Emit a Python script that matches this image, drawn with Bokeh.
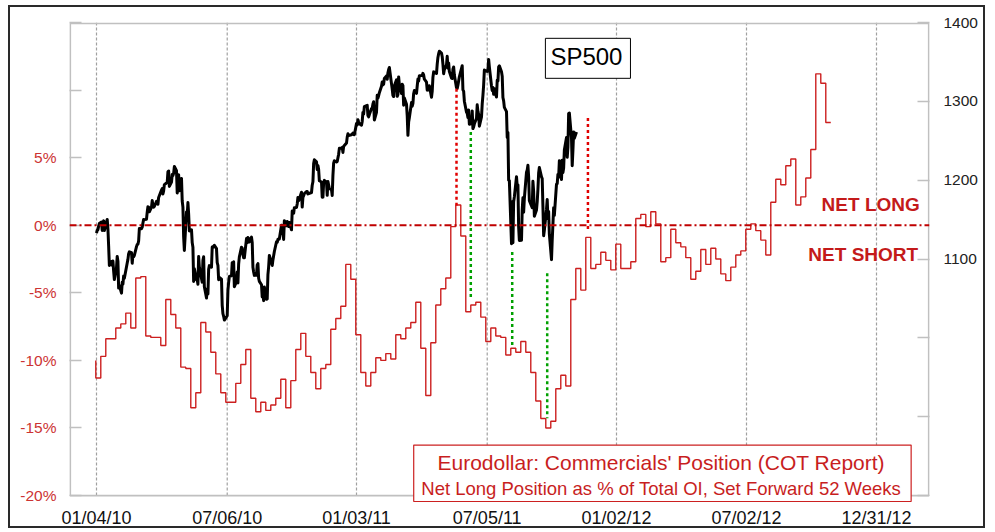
import pandas as pd
from bokeh.plotting import figure
from bokeh.models import (Range1d, LinearAxis, FixedTicker, Span, Label, BoxAnnotation,
                          DatetimeTickFormatter, CustomJSTickFormatter, ColumnDataSource)
from bokeh.embed import file_html
from bokeh.resources import INLINE

# ---------------- data ----------------
sp500_2010 = [
    1132.99, 1136.52, 1137.14, 1141.69, 1144.98, 1146.98, 1136.22, 1145.68, 1148.46, 1136.03,
    1150.23, 1138.04, 1116.48, 1091.76, 1096.78, 1092.17, 1097.50, 1084.53, 1073.87,
    1089.19, 1103.32, 1097.28, 1063.11, 1066.19, 1056.74, 1070.52, 1068.13, 1078.47, 1075.51,
    1094.87, 1099.51, 1106.75, 1109.17, 1108.01, 1094.60, 1105.24, 1102.94, 1104.49,
    1115.71, 1118.31, 1118.79, 1122.97, 1138.70, 1138.50, 1140.45, 1145.61, 1150.24, 1149.99,
    1150.51, 1159.46, 1166.21, 1165.83, 1159.90, 1165.81, 1174.17, 1167.72, 1165.73, 1166.59,
    1173.22, 1173.27, 1169.43,
    1178.10, 1187.44, 1189.44, 1182.45, 1186.44, 1194.37, 1196.48, 1197.30, 1210.65, 1211.67,
    1192.13, 1197.52, 1207.17, 1205.94, 1208.67, 1217.28, 1212.05, 1183.71, 1191.36, 1206.78, 1186.69,
    1202.26, 1173.60, 1165.87, 1128.15, 1110.88, 1159.73, 1155.79, 1171.67, 1157.44, 1135.68,
    1136.94, 1120.80, 1115.05, 1071.59, 1087.69, 1073.65, 1074.03, 1067.95, 1103.06, 1089.41,
    1070.71, 1098.38, 1102.83, 1064.88, 1050.47, 1062.00, 1055.69, 1086.84, 1091.60, 1089.63,
    1115.23, 1114.61, 1116.04, 1117.51, 1113.20, 1095.31, 1092.04, 1073.69, 1076.76, 1074.57,
    1041.24, 1030.71,
    1027.37, 1022.58, 1028.06, 1060.27, 1070.25, 1077.96, 1078.75, 1095.34, 1095.17, 1096.48,
    1064.88, 1071.25, 1083.48, 1069.59, 1093.67, 1102.66, 1115.01, 1113.84, 1106.13, 1101.53, 1101.60,
    1125.86, 1120.46, 1127.24, 1125.81, 1121.64, 1127.79, 1121.06, 1089.47, 1083.61, 1079.25,
    1079.38, 1092.54, 1094.16, 1075.63, 1071.69, 1067.36, 1051.87, 1055.33, 1047.22, 1064.59,
    1048.92, 1049.33,
    1080.29, 1090.10, 1104.51, 1091.84, 1098.87, 1104.18, 1109.55, 1121.90, 1121.10, 1125.07,
    1124.66, 1125.59, 1142.71, 1139.78, 1134.28, 1124.83, 1148.67, 1142.16, 1147.70, 1144.73, 1141.20,
    1146.24, 1137.03, 1160.75, 1159.97, 1158.06, 1165.15, 1165.32, 1169.77, 1178.10, 1173.81,
    1176.19, 1184.71, 1165.90, 1178.17, 1180.26, 1183.08, 1185.62, 1185.64, 1182.45, 1183.78, 1183.26,
    1184.38, 1193.57, 1197.96, 1221.06, 1225.85, 1223.25, 1213.40, 1218.71, 1213.54, 1199.21,
    1197.75, 1178.34, 1178.59, 1196.69, 1199.73, 1197.84, 1180.73, 1198.35, 1189.40, 1187.76, 1180.55,
    1206.07, 1221.53, 1224.71, 1223.12, 1223.75, 1228.28, 1233.00, 1240.40, 1240.46, 1241.59,
    1235.23, 1242.87, 1243.91, 1247.08, 1254.60, 1258.84, 1256.77, 1257.54, 1258.51, 1259.78,
    1257.88, 1257.64,
]
sp500_2011 = [
    1271.87, 1270.20, 1276.56, 1273.85, 1271.50, 1269.75, 1274.48, 1285.96, 1283.76, 1293.24,
    1295.02, 1281.92, 1280.26, 1283.35, 1290.84, 1291.18, 1296.63, 1299.54, 1276.34, 1286.12,
    1307.59, 1304.03, 1307.10, 1310.87, 1319.05, 1324.57, 1320.88, 1321.87, 1329.15, 1332.32,
    1328.01, 1336.32, 1340.43, 1343.01, 1315.44, 1307.40, 1306.10, 1319.88, 1327.22,
    1306.33, 1308.44, 1330.97, 1321.15, 1310.13, 1321.82, 1320.02, 1295.11, 1304.28, 1296.39,
    1281.87, 1256.88, 1273.72, 1279.21, 1298.38, 1293.77, 1297.54, 1309.66, 1313.80, 1310.19,
    1319.44, 1328.26, 1325.83,
    1332.41, 1332.87, 1332.63, 1335.54, 1333.51, 1328.17, 1324.46, 1314.16, 1314.41, 1314.52,
    1319.68, 1305.14, 1312.62, 1330.36, 1337.38, 1335.25, 1347.24, 1355.66, 1360.48, 1363.61,
    1361.22, 1356.62, 1347.32, 1335.10, 1340.20, 1346.29, 1357.16, 1342.08, 1348.65, 1337.77,
    1329.47, 1328.98, 1340.68, 1343.60, 1333.27, 1317.37, 1316.28, 1320.47, 1325.69, 1331.10, 1345.20,
    1314.55, 1312.94, 1300.16, 1286.17, 1284.94, 1279.56, 1289.00, 1270.98, 1271.83, 1287.87,
    1265.42, 1267.64, 1271.50, 1278.36, 1295.52, 1287.14, 1283.50, 1268.45, 1280.10, 1296.67,
    1307.41, 1320.64,
    1339.67, 1337.88, 1339.22, 1353.22, 1343.80, 1319.49, 1313.64, 1317.72, 1308.87, 1316.14,
    1305.44, 1326.73, 1325.84, 1343.80, 1345.02, 1337.43, 1331.94, 1304.89, 1300.67, 1292.28,
    1286.94, 1254.05, 1260.34, 1200.07, 1199.38, 1119.46, 1172.53, 1120.76, 1172.64, 1178.81,
    1204.49, 1192.76, 1193.89, 1140.65, 1123.53, 1123.82, 1162.35, 1177.60, 1159.27, 1176.80,
    1210.08, 1212.92, 1218.89,
    1204.42, 1173.97, 1165.24, 1198.62, 1185.90, 1154.23, 1162.27, 1172.87, 1188.68, 1209.11,
    1216.01, 1204.09, 1202.09, 1166.76, 1129.56, 1136.43, 1162.95, 1175.38, 1151.06, 1160.40, 1131.42,
    1099.23, 1123.95, 1144.03, 1164.97, 1155.46, 1194.89, 1195.54, 1207.25, 1203.66, 1224.58,
    1200.86, 1225.38, 1209.88, 1215.39, 1238.25, 1254.19, 1229.05, 1242.00, 1284.59, 1285.09, 1253.30,
    1218.28, 1237.90, 1261.15, 1253.23, 1261.12,
]
nyse_holidays = [
    "2010-01-01", "2010-01-18", "2010-02-15", "2010-04-02", "2010-05-31", "2010-07-05",
    "2010-09-06", "2010-11-25", "2010-12-24", "2011-01-17", "2011-02-21", "2011-04-22",
    "2011-05-30", "2011-07-04", "2011-09-05", "2011-11-24",
]
sp500_first_day = "2010-01-04"

# Eurodollar commercials' net long position, % of total OI (weekly, set forward 52 weeks)
cot_first_week = "2010-01-03"
cot_net_pct = [
    -10.0,
    -11.3, -9.7, -8.4, -8.4, -7.6, -7.3, -6.5, -7.6, -3.9, -3.8,
    -8.2, -8.3, -8.3, -8.9, -5.5, -6.6, -7.6, -10.5, -10.6, -13.5,
    -12.4, -7.2, -7.9, -9.4, -11.0, -12.4, -13.1, -13.1, -11.7, -10.3,
    -9.2, -12.8, -13.8, -13.1, -13.7, -13.3, -12.8, -11.4, -13.5, -11.5,
    -9.2, -8.0, -9.7, -10.9, -12.1, -10.6, -10.3, -7.7, -6.9, -6.0,
    -2.9, -4.0, -8.1, -10.9, -11.9, -10.9, -9.8, -10.0, -9.5, -9.9,
    -8.1, -8.4, -7.6, -7.2, -5.7, -9.1, -12.6, -8.7, -5.9, -4.7,
    -3.9, -0.1, 1.5, -0.8, -6.4, -5.9, -5.7, -6.8, -8.6, -7.6,
    -8.2, -8.3, -9.6, -9.1, -9.4, -8.6, -9.4, -10.9, -13.0, -14.3,
    -15.0, -14.5, -12.1, -11.1, -11.9, -5.5, -3.2, -4.8, -0.9, -3.2,
    -2.9, -2.0, -2.6, -3.3, -1.4, -3.2, -3.2, -2.7, 0.5, 0.8,
    -0.1, 1.0, 0.1, -2.7, -2.4, -0.3, -1.3, -1.6, -2.4, -4.0,
    -3.4, -1.8, -2.9, -1.7, -2.5, -3.6, -4.1, -3.1, -2.2, -1.9,
    -0.3, 0.1, -0.4, -1.1, -2.2, 1.7, 3.4, 3.0, 4.4, 4.9,
    1.5, 2.1, 3.5, 5.6, 11.2, 10.5, 7.6,
]

# tick positions / labels
x_tick_dates = ["2010-01-04", "2010-07-06", "2011-01-03", "2011-07-05",
                "2012-01-02", "2012-07-02", "2012-12-31"]
pct_ticks = [-20, -15, -10, -5, 0, 5, 10, 15]
pct_labelled = [-20, -15, -10, -5, 0, 5]
sp_ticks = [800, 900, 1000, 1100, 1200, 1300, 1400]
sp_labelled = [1100, 1200, 1300, 1400]

# dotted marker lines (date, SP500-scale top and bottom)
marker_dates = ["2011-05-23", "2011-06-12", "2011-08-09", "2011-09-27", "2011-11-23"]
marker_top = [1316, 1261, 1109, 1082, 1279]
marker_bottom = [1168, 1050, 989, 898, 1135]
marker_colors = ["#e00000", "#00a000", "#00a000", "#00a000", "#e00000"]

# ---------------- build ----------------
FONT = "Liberation Sans"
anchor = pd.Timestamp(sp500_first_day)
PCT_LO, PCT_HI = -20, 15
SP_LO, SP_HI = 800, 1400
EXTRA = 8 / 475.0   # frame extends a little below the -20% line (for the caption box)
X_LO, X_HI = -37.8, 1166.2   # days relative to first trading day


def ms(ts):
    return pd.Timestamp(ts).value / 1e6


def day(n):
    return (anchor + pd.Timedelta(days=n)).value / 1e6


sp_dates = pd.bdate_range(sp500_first_day, periods=len(sp500_2010) + len(sp500_2011),
                          freq="C", holidays=nyse_holidays)
sp_values = sp500_2010 + sp500_2011
cot_dates = pd.date_range(cot_first_week, periods=len(cot_net_pct), freq="7D")

p = figure(width=977, height=523, x_axis_type="datetime",
           x_range=Range1d(day(X_LO), day(X_HI)),
           y_range=Range1d(PCT_LO - (PCT_HI - PCT_LO) * EXTRA, PCT_HI),
           output_backend="svg", toolbar_location=None,
           min_border_left=59, min_border_right=58, min_border_top=15, min_border_bottom=25,
           background_fill_color="white", border_fill_color="white",
           outline_line_color=None,
           styles={"margin-left": "8px", "margin-top": "5px",
                   "border": "2px solid #2a2a2a"})
p.extra_y_ranges = {"sp": Range1d(SP_LO - (SP_HI - SP_LO) * EXTRA, SP_HI)}

# x axis
xt = FixedTicker(ticks=[ms(d) for d in x_tick_dates])
xa = p.xaxis[0]
xa.ticker = xt
fmt = "%m/%d/%y"
xa.formatter = DatetimeTickFormatter(milliseconds=fmt, seconds=fmt, minsec=fmt, minutes=fmt,
                                     hourmin=fmt, hours=fmt, days=fmt, months=fmt, years=fmt)
xa.major_tick_in = 0
xa.major_tick_out = 0
xa.minor_tick_in = 0
xa.minor_tick_out = 0
xa.axis_line_color = None
xa.major_label_text_font = FONT
xa.major_label_text_font_size = "18px"
xa.major_label_text_color = "#111111"
xa.major_label_standoff = 4
p.xgrid.visible = False
p.ygrid.visible = False

# vertical dashed grid lines at the date ticks, from -20% to the top
grid_src = ColumnDataSource(dict(x=[ms(d) for d in x_tick_dates],
                                 y0=[PCT_LO] * len(x_tick_dates),
                                 y1=[PCT_HI] * len(x_tick_dates)))
p.segment(x0="x", y0="y0", x1="x", y1="y1", source=grid_src, line_color="#a0a0a0",
          line_width=1.2, line_dash="3 2", level="underlay")

# plot box (light grey) from -20% to the top, kept just inside the frame
p.add_layout(BoxAnnotation(left=day(X_LO + 1.0), right=day(X_HI - 1.0),
                           top=PCT_HI - 0.06, bottom=PCT_LO,
                           fill_alpha=0, line_alpha=1.0,
                           line_color="#c0c0c0", line_width=1.8, level="underlay"))

# left axis (percent)
ya = p.yaxis[0]
ya.ticker = FixedTicker(ticks=pct_ticks)
ya.formatter = CustomJSTickFormatter(args=dict(show=pct_labelled),
                                     code="return show.includes(tick) ? tick + '%' : '';")
ya.major_tick_in = 12
ya.major_tick_out = 0
ya.minor_tick_in = 0
ya.minor_tick_out = 0
ya.axis_line_color = None
ya.major_tick_line_color = "#c0c0c0"
ya.major_tick_line_width = 1.5
ya.major_label_text_font = FONT
ya.major_label_text_font_size = "15.5px"
ya.major_label_text_color = "#cc3333"
ya.major_label_standoff = 13

# right axis (SP500)
ra = LinearAxis(y_range_name="sp", ticker=FixedTicker(ticks=sp_ticks),
                formatter=CustomJSTickFormatter(args=dict(show=sp_labelled),
                                                code="return show.includes(tick) ? String(tick) : '';"))
ra.major_tick_in = 12
ra.major_tick_out = 0
ra.minor_tick_in = 0
ra.minor_tick_out = 0
ra.axis_line_color = None
ra.major_tick_line_color = "#c0c0c0"
ra.major_tick_line_width = 1.5
ra.major_label_text_font = FONT
ra.major_label_text_font_size = "15.5px"
ra.major_label_text_color = "#222222"
ra.major_label_standoff = 14
p.add_layout(ra, "right")

# series
p.step(x=cot_dates, y=cot_net_pct, mode="before", line_color="#cc1f1f", line_width=1.4)
p.line(x=sp_dates[:len(sp_values)], y=sp_values, y_range_name="sp",
       line_color="black", line_width=3, line_join="round")

# zero line
p.add_layout(Span(location=0, dimension="width", line_color="#c00000",
                  line_width=2, line_dash="7 3 2 3"))

# dotted marker lines
msrc = ColumnDataSource(dict(x=[ms(d) for d in marker_dates], y0=marker_top,
                             y1=marker_bottom, c=marker_colors))
p.segment(x0="x", y0="y0", x1="x", y1="y1", source=msrc, y_range_name="sp",
          line_color="c", line_width=2.5, line_dash="3 3")

# annotations
p.add_layout(Label(x=day(688), y=12.35, text="SP500", text_align="center",
                   text_baseline="middle", text_font=FONT, text_font_size="24px",
                   text_color="black", border_line_color="black", border_line_width=1,
                   background_fill_color="white", padding=(5, 8, 5, 8)))
p.add_layout(Label(x=day(1152.6), y=1.55, text="NET LONG", text_align="right",
                   text_baseline="middle", text_font=FONT, text_font_size="19px",
                   text_font_style="bold", text_color="#c41a1a"))
p.add_layout(Label(x=day(1150.3), y=-2.19, text="NET SHORT", text_align="right",
                   text_baseline="middle", text_font=FONT, text_font_size="19px",
                   text_font_style="bold", text_color="#c41a1a"))

p.add_layout(BoxAnnotation(left=day(444.1), right=day(1140.5), top=-16.27, bottom=-20.44,
                           fill_color="white", fill_alpha=1.0, line_alpha=1.0,
                           line_color="#cc2020", line_width=1.2))
p.add_layout(Label(x=day(790.6), y=-17.55, text="Eurodollar: Commercials' Position (COT Report)",
                   text_align="center", text_baseline="middle", text_font=FONT,
                   text_font_size="21px", text_color="#c81e1e"))
p.add_layout(Label(x=day(790.6), y=-19.50,
                   text="Net Long Position as % of Total OI, Set Forward 52 Weeks",
                   text_align="center", text_baseline="middle", text_font=FONT,
                   text_font_size="18.5px", text_color="#c81e1e"))

open("out.html", "w").write(file_html(p, INLINE))
